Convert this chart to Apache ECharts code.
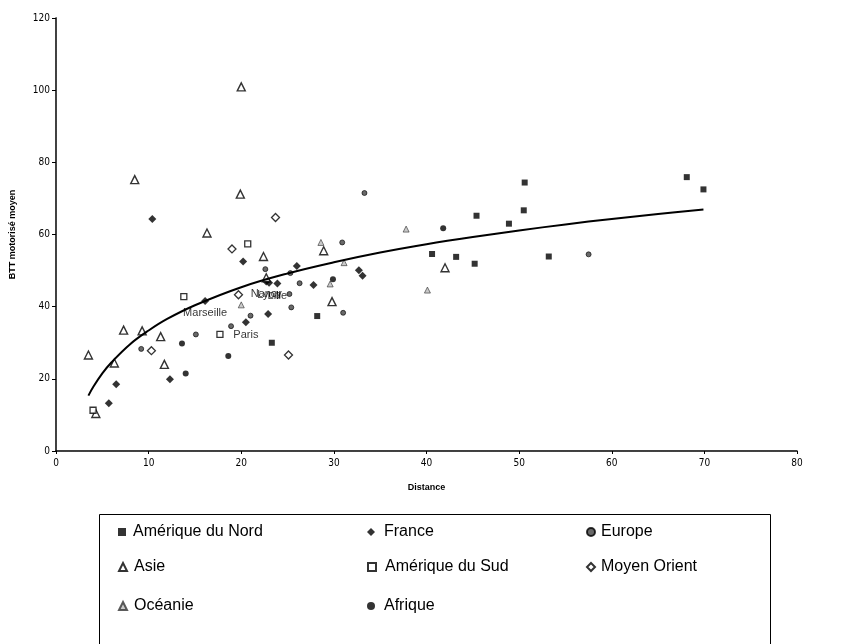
<!DOCTYPE html>
<html>
<head>
<meta charset="utf-8">
<script src="https://cdn.jsdelivr.net/npm/echarts/dist/echarts.min.js"></script>
<style>
  html, body { margin: 0; padding: 0; background: #fff; }
  #chart { width: 864px; height: 644px; }
</style>
</head>
<body>
<div id="chart"></div>
<script>
// Distance vs. average motorised BTT, one array of [distance, btt] per region
const ameriqueNord = [[50.6,74.4],[50.5,66.7],[45.4,65.2],[48.9,63.0],[53.2,53.9],[68.1,75.9],[69.9,72.5],[40.6,54.6],[43.2,53.8],[45.2,51.9],[28.2,37.4],[23.3,30.0]];
const franceOther = [[5.7,13.2],[6.5,18.5],[12.3,19.9],[22.9,38.0],[10.4,64.3],[20.2,52.5],[32.7,50.1],[33.1,48.6],[27.8,46.0],[26.0,51.3]];
const franceCityNames = ['Marseille','Paris','Nancy','Lyon','Lille'];
const franceCityPoints = [[16.1,41.6],[20.5,35.7],[22.7,47.0],[23.0,46.6],[23.9,46.4]];
const europe = [[9.2,28.3],[15.1,32.3],[18.9,34.6],[21.0,37.5],[25.2,43.5],[25.4,39.8],[22.6,50.4],[25.3,49.3],[26.3,46.5],[33.3,71.5],[30.9,57.8],[31.0,38.3],[57.5,54.5]];
const asie = [[4.3,10.4],[3.5,26.6],[6.3,24.4],[7.3,33.5],[9.3,33.3],[11.3,31.7],[11.7,24.0],[20.0,100.9],[8.5,75.2],[19.9,71.2],[16.3,60.4],[22.4,53.9],[28.9,55.5],[29.8,41.4],[42.0,50.8],[22.7,48.0]];
const ameriqueSud = [[4.0,11.3],[13.8,42.8],[17.7,32.3],[20.7,57.4]];
const moyenOrient = [[10.3,27.8],[23.7,64.7],[19.0,56.0],[19.7,43.3],[25.1,26.6]];
const oceanie = [[28.6,57.8],[37.8,61.5],[40.1,44.6],[31.1,52.2],[29.6,46.3],[20.0,40.5]];
const afrique = [[14.0,21.5],[13.6,29.8],[18.6,26.3],[41.8,61.7],[29.9,47.6]];

// Logarithmic trend curve, sampled along the distance axis
const trendX = [3.5,4,5,6,8,10,12,15,20,25,30,35,40,45,50,55,60,65,69.9];
const trendY = [15.35,17.65,21.5,24.6,29.6,33.4,36.6,40.4,45.4,49.2,52.3,55.0,57.3,59.3,61.1,62.8,64.3,65.7,66.9];

const xTicks = { min: 0, max: 80, step: 10 };
const yTicks = { min: 0, max: 120, step: 20 };

const legendRows = [
  ['Amérique du Nord', 'France', 'Europe'],
  ['Asie', 'Amérique du Sud', 'Moyen Orient'],
  ['Océanie', 'Afrique']
];

const chart = echarts.init(document.getElementById('chart'), null, { renderer: 'canvas' });

const tickFont = "'Liberation Sans Narrow', 'Arial Narrow', 'DejaVu Sans Condensed', sans-serif";
const textFont = "'Liberation Sans', Arial, sans-serif";

const franceData = franceOther.map(p => ({ value: p })).concat(
  franceCityPoints.map((p, i) => ({
    value: p,
    name: franceCityNames[i],
    label: {
      show: true,
      position: 'bottom',
      distance: 3,
      formatter: franceCityNames[i],
      fontFamily: textFont,
      fontSize: 11,
      color: '#000'
    }
  }))
);

function scatter(name, data, symbol, size, style) {
  return {
    name, type: 'scatter', data, symbol, symbolSize: size,
    itemStyle: style, emphasis: { disabled: true }, z: 3
  };
}

const series = [
  scatter('Amérique du Nord', ameriqueNord, 'rect', 6, { color: '#000' }),
  scatter('France', franceData, 'diamond', 8, { color: '#000' }),
  scatter('Europe', europe, 'circle', 5, { color: '#444', borderColor: '#000', borderWidth: 0.8 }),
  scatter('Asie', asie, 'triangle', 8, { color: '#fff', borderColor: '#000', borderWidth: 1.4 }),
  scatter('Amérique du Sud', ameriqueSud, 'rect', 6, { color: '#fff', borderColor: '#000', borderWidth: 1.3 }),
  scatter('Moyen Orient', moyenOrient, 'diamond', 8, { color: '#fff', borderColor: '#000', borderWidth: 1.3 }),
  scatter('Océanie', oceanie, 'triangle', 6, { color: '#bbb', borderColor: '#333', borderWidth: 0.8 }),
  scatter('Afrique', afrique, 'circle', 6, { color: '#000' }),
  {
    name: 'tendance', type: 'line', smooth: 0.4, showSymbol: false,
    data: trendX.map((x, i) => [x, trendY[i]]),
    lineStyle: { color: '#000', width: 2 }, z: 4, silent: true
  }
];

// One legend block per entry, laid out in three columns
const colMarkerX = [118, 367, 586];
const colTextPad = [2, 4, 1];
const rowY = [532, 567, 606];
const legends = [];
legendRows.forEach((row, r) => {
  row.forEach((name, c) => {
    legends.push({
      data: [name],
      left: colMarkerX[c],
      top: rowY[r] - 10,
      padding: 0,
      itemWidth: 8,
      itemHeight: 8,
      itemGap: 0,
      selectedMode: false,
      textStyle: { fontFamily: textFont, fontSize: 16, color: '#000', padding: [0, 0, 0, colTextPad[c]], lineHeight: 20 }
    });
  });
});

const hiddenAxis = {
  axisLabel: { show: false }, axisTick: { show: false }, splitLine: { show: false },
  axisLine: { show: true, lineStyle: { color: '#444', width: 1, type: 'dotted' } }
};

chart.setOption({
  animation: false,
  backgroundColor: '#fff',
  grid: { left: 52, right: 67, top: 18, bottom: 193, containLabel: false },
  xAxis: [
    {
      type: 'value', min: xTicks.min, max: xTicks.max, interval: xTicks.step,
      name: 'Distance', nameLocation: 'middle', nameGap: 32,
      nameTextStyle: { fontFamily: textFont, fontSize: 9, fontWeight: 'bold', color: '#000' },
      axisLine: { show: true, onZero: false, lineStyle: { color: '#000', width: 1.5 } },
      axisTick: { show: true, length: 3, lineStyle: { color: '#000' } },
      axisLabel: { fontFamily: tickFont, fontSize: 10, color: '#000', margin: 7 },
      splitLine: { show: false }
    },
    Object.assign({ type: 'value', position: 'top', min: xTicks.min, max: xTicks.max }, hiddenAxis)
  ],
  yAxis: [
    {
      type: 'value', min: yTicks.min, max: yTicks.max, interval: yTicks.step,
      name: 'BTT motorisé moyen', nameLocation: 'middle', nameGap: 39, nameRotate: 90,
      nameTextStyle: { fontFamily: textFont, fontSize: 9, fontWeight: 'bold', color: '#000' },
      axisLine: { show: true, onZero: false, lineStyle: { color: '#000', width: 1.5 } },
      axisTick: { show: true, length: 4, lineStyle: { color: '#000' } },
      axisLabel: { fontFamily: tickFont, fontSize: 10, color: '#000', margin: 6 },
      splitLine: { show: false }
    },
    Object.assign({ type: 'value', position: 'right', min: yTicks.min, max: yTicks.max }, hiddenAxis)
  ],
  legend: legends,
  graphic: [{
    type: 'rect', left: 97, top: 512, silent: true,
    shape: { width: 671, height: 160 },
    style: { fill: 'none', stroke: '#000', lineWidth: 1 }
  }],
  series
});
</script>
</body>
</html>
